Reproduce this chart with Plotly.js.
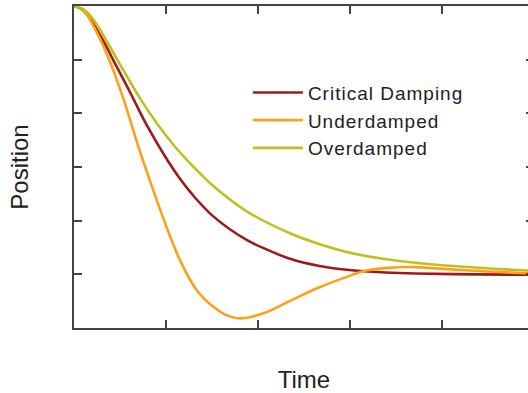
<!DOCTYPE html>
<html>
<head>
<meta charset="utf-8">
<script src="https://cdn.plot.ly/plotly-3.0.1.min.js"></script>
<style>
html,body{margin:0;padding:0;background:#fff;overflow:hidden;width:528px;height:393px;}
#chart{width:545px;height:393px;}
#chart .legendtext{letter-spacing:1px;}
#chart .legend .scrollbox{clip-path:none !important;}
</style>
</head>
<body>
<div id="chart"></div>
<script>
// Values (time axis 0..5, position axis -0.2..1)
const criticalT = [0, 0.1, 0.29, 0.435, 0.616, 0.797, 1.014, 1.152, 1.3, 1.514, 1.877, 2.1, 2.348, 2.655, 3.018, 3.38, 3.707, 4.377, 5.0];
const criticalY = [1.0, 0.984, 0.888, 0.793, 0.674, 0.552, 0.426, 0.356, 0.292, 0.216, 0.128, 0.092, 0.058, 0.032, 0.015, 0.007, 0.003, 0.0, -0.002];

const underT = [0, 0.1, 0.253, 0.399, 0.543, 0.688, 0.834, 0.978, 1.152, 1.334, 1.514, 1.65, 1.804, 2.058, 2.348, 2.655, 3.018, 3.16, 3.38, 3.707, 4.196, 5.0];
const underY = [1.0, 0.985, 0.898, 0.786, 0.648, 0.488, 0.340, 0.202, 0.053, -0.059, -0.121, -0.151, -0.164, -0.145, -0.099, -0.050, -0.003, 0.013, 0.023, 0.027, 0.016, 0.003];

const overT = [0, 0.1, 0.217, 0.362, 0.543, 0.725, 0.902, 1.087, 1.3, 1.514, 1.877, 2.348, 2.655, 3.018, 3.38, 3.707, 4.196, 4.6, 5.0];
const overY = [1.0, 0.988, 0.947, 0.865, 0.757, 0.652, 0.562, 0.480, 0.400, 0.329, 0.235, 0.153, 0.114, 0.079, 0.057, 0.043, 0.029, 0.020, 0.013];

const seriesNames = ["Critical Damping", "Underdamped", "Overdamped"];
const xTicks = [1, 2, 3, 4];
const yTicks = [0, 0.2, 0.4, 0.6, 0.8];

const colors = ["#9e1a1a", "#ffa01a", "#bcc21a"];
const mk = (x, y, i) => ({
  x: x, y: y, type: "scatter", mode: "lines", name: seriesNames[i],
  line: {color: colors[i], width: 2.6, shape: "spline", smoothing: 1.0}
});

const data = [mk(criticalT, criticalY, 0), mk(underT, underY, 1), mk(overT, overY, 2)];

const axisCommon = {
  showgrid: false, zeroline: false, showline: true, linecolor: "#444", linewidth: 2,
  mirror: "ticks", ticks: "inside", ticklen: 8, tickwidth: 2, tickcolor: "#444",
  showticklabels: false
};

const layout = {
  width: 545, height: 393,
  margin: {l: 74, r: 11, t: 6, b: 65},
  paper_bgcolor: "#fff", plot_bgcolor: "#fff",
  font: {family: "Liberation Sans, Arial, sans-serif", color: "#222"},
  xaxis: Object.assign({}, axisCommon, {
    range: [0, 5], tickvals: xTicks,
    title: {text: "Time", font: {size: 24, color: "#222"}, standoff: 42}
  }),
  yaxis: Object.assign({}, axisCommon, {
    range: [-0.2, 1.0], tickvals: yTicks,
    title: {text: "Position", font: {size: 24, color: "#222"}, standoff: 37}
  }),
  showlegend: true,
  legend: {
    x: 0.378, y: 0.79, xanchor: "left", yanchor: "top",
    bgcolor: "rgba(0,0,0,0)", borderwidth: 0,
    font: {size: 19, color: "#222"}, itemwidth: 50, tracegroupgap: 0
  }
};

Plotly.newPlot("chart", data, layout, {displayModeBar: false, responsive: false, staticPlot: true});
</script>
</body>
</html>
